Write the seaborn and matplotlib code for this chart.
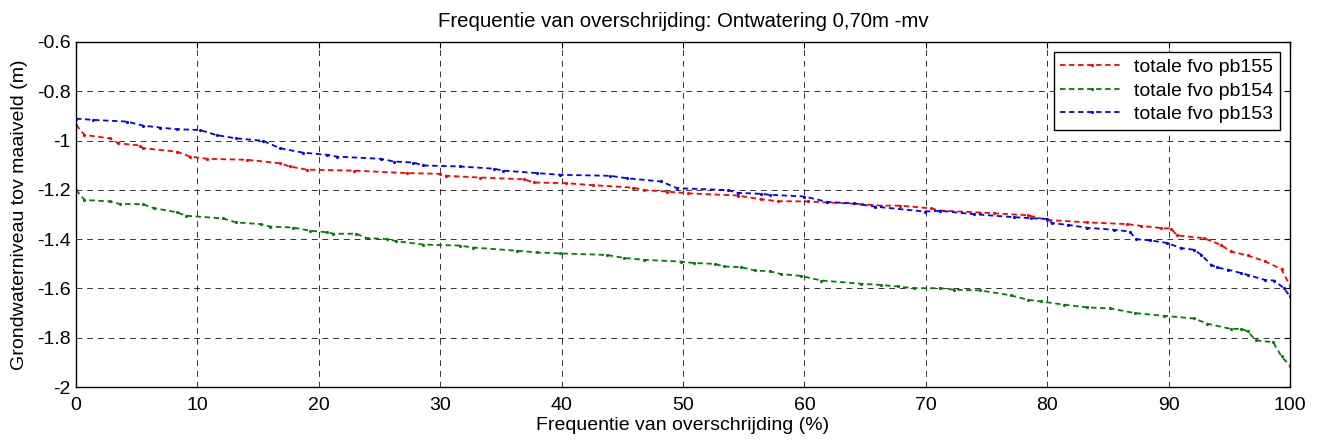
import numpy as np
import pandas as pd
import matplotlib
matplotlib.use("Agg")
import matplotlib.pyplot as plt
import seaborn as sns

# ---- data ----
x_155 = [0, 0.7, 2.8, 3.5, 5.3, 5.5, 8.3, 9.4, 10.8, 14.1, 16.8, 17.6, 19.0, 22.9, 27.3, 30.0, 30.5,
         33.3, 36.9, 37.7, 40.4, 42.6, 45.9, 46.8, 48.7, 50.4, 54.5, 56.4, 57.8, 60.3, 61.9, 64.7,
         66.3, 67.9, 70.4, 71.2, 74.5, 75.6, 78.4, 80.0, 83.3, 86.6, 87.7, 89.4, 90.2, 90.7, 92.9,
         94.3, 95.1, 96.5, 97.9, 99.3, 100]
y_155 = [-0.936, -0.977, -0.991, -1.011, -1.020, -1.031, -1.045, -1.065, -1.074, -1.078, -1.092, -1.105,
         -1.118, -1.122, -1.132, -1.135, -1.143, -1.150, -1.157, -1.170, -1.173, -1.181, -1.191, -1.201,
         -1.207, -1.214, -1.223, -1.238, -1.246, -1.247, -1.251, -1.258, -1.264, -1.264, -1.275, -1.284,
         -1.292, -1.295, -1.303, -1.322, -1.332, -1.339, -1.346, -1.355, -1.357, -1.385, -1.396, -1.423,
         -1.450, -1.466, -1.489, -1.522, -1.589]

x_154 = [0, 0.7, 2.8, 3.6, 5.5, 6.4, 8.3, 9.1, 12.1, 13.2, 15.2, 16.0, 17.9, 19.3, 20.7, 21.2, 23.1,
         23.9, 25.6, 26.4, 28.6, 31.6, 32.7, 36.3, 38.0, 39.9, 43.7, 45.1, 46.8, 49.8, 50.9, 52.6,
         53.4, 54.8, 55.9, 57.2, 58.1, 59.7, 61.4, 64.7, 66.3, 67.7, 69.0, 71.2, 72.3, 74.5, 77.0,
         78.4, 79.5, 81.4, 83.3, 85.2, 87.2, 89.6, 92.1, 93.2, 95.1, 96.0, 96.5, 97.2, 98.6, 99.3, 100]
y_154 = [-1.200, -1.241, -1.247, -1.257, -1.258, -1.274, -1.291, -1.305, -1.316, -1.332, -1.339, -1.349,
         -1.353, -1.366, -1.372, -1.378, -1.378, -1.395, -1.400, -1.408, -1.422, -1.426, -1.434, -1.447,
         -1.454, -1.458, -1.464, -1.476, -1.484, -1.491, -1.497, -1.500, -1.511, -1.514, -1.527, -1.531,
         -1.542, -1.549, -1.568, -1.581, -1.586, -1.592, -1.599, -1.599, -1.605, -1.608, -1.628, -1.646,
         -1.653, -1.666, -1.677, -1.681, -1.700, -1.711, -1.722, -1.743, -1.764, -1.764, -1.774, -1.811,
         -1.818, -1.876, -1.914]

x_153 = [0, 1.4, 4.2, 5.5, 6.9, 8.3, 10.2, 11.6, 13.2, 15.4, 16.8, 18.7, 20.7, 21.5, 25.1, 26.2, 27.8,
         28.6, 31.6, 34.4, 35.2, 38.0, 39.9, 44.0, 45.4, 48.2, 49.5, 53.7, 54.5, 56.4, 57.2, 60.0,
         61.9, 64.1, 65.8, 69.9, 71.2, 74.0, 77.3, 78.7, 80.0, 80.4, 81.7, 83.3, 85.5, 86.8, 87.3,
         88.5, 89.9, 91.0, 92.1, 92.7, 93.5, 94.0, 94.9, 96.0, 96.5, 97.9, 98.7, 99.5, 100]
y_153 = [-0.911, -0.916, -0.923, -0.939, -0.947, -0.954, -0.957, -0.978, -0.991, -1.001, -1.031, -1.049,
         -1.058, -1.065, -1.074, -1.085, -1.089, -1.101, -1.105, -1.114, -1.122, -1.132, -1.139, -1.143,
         -1.153, -1.166, -1.193, -1.201, -1.212, -1.216, -1.220, -1.227, -1.249, -1.255, -1.268, -1.288,
         -1.285, -1.299, -1.311, -1.315, -1.318, -1.335, -1.342, -1.354, -1.362, -1.369, -1.400, -1.405,
         -1.416, -1.436, -1.443, -1.464, -1.504, -1.515, -1.524, -1.538, -1.545, -1.565, -1.568, -1.599,
         -1.632]

labels = ["totale fvo pb155", "totale fvo pb154", "totale fvo pb153"]
colors = ["#ff0000", "#008000", "#0000ff"]
x_ticks = [0, 10, 20, 30, 40, 50, 60, 70, 80, 90, 100]
y_ticks = [-2, -1.8, -1.6, -1.4, -1.2, -1, -0.8, -0.6]
y_ticklabels = ["-2", "-1.8", "-1.6", "-1.4", "-1.2", "-1", "-0.8", "-0.6"]

df = pd.concat([
    pd.DataFrame({"x": x_155, "y": y_155, "serie": labels[0]}),
    pd.DataFrame({"x": x_154, "y": y_154, "serie": labels[1]}),
    pd.DataFrame({"x": x_153, "y": y_153, "serie": labels[2]}),
], ignore_index=True)

sns.set_style("white")
plt.rcParams["font.family"] = ["Liberation Sans", "DejaVu Sans"]
plt.rcParams["text.color"] = "black"
plt.rcParams["axes.labelcolor"] = "black"

fig = plt.figure(figsize=(13.24, 4.46), dpi=100)
ax = fig.add_axes([76 / 1324, 1 - 387 / 446, (1290 - 76) / 1324, (387 - 42) / 446])

sns.lineplot(data=df, x="x", y="y", hue="serie", hue_order=labels, palette=colors,
             sort=False, estimator=None, ax=ax, linewidth=1.3, marker=".", markersize=4.5,
             markeredgewidth=0, dashes=False)
for ln in ax.get_lines():
    ln.set_linestyle((0, (3, 2)))

ax.set_xlim(0, 100)
ax.set_ylim(-2, -0.6)
ax.set_xticks(x_ticks)
ax.set_yticks(y_ticks)
ax.set_yticklabels(y_ticklabels)
ax.tick_params(direction="in", length=4, width=0.8, labelsize=14, colors="black",
               top=True, right=True)
ax.tick_params(axis="x", pad=7)
ax.tick_params(axis="y", pad=4)
ax.grid(True, color="black", linestyle=(0, (6, 5)), linewidth=0.7, alpha=0.8)
for s in ax.spines.values():
    s.set_visible(True)
    s.set_color("black")
    s.set_linewidth(1.0)

ax.set_title("Frequentie van overschrijding: Ontwatering 0,70m -mv", fontsize=14.7, pad=11,
             color="black")
ax.set_xlabel("Frequentie van overschrijding (%)", fontsize=14, labelpad=2)
ax.set_ylabel("Grondwaterniveau tov maaiveld (m)", fontsize=14, labelpad=6)

handles, labs = ax.get_legend_handles_labels()
for h in handles:
    h.set_linestyle((0, (3, 2)))
leg = ax.legend(handles, labs, loc="upper right", fontsize=14, frameon=True, fancybox=False,
                framealpha=1, edgecolor="black", borderpad=0.35, handlelength=3.2,
                labelspacing=0.3, borderaxespad=0.5, handletextpad=0.6)
leg.get_frame().set_linewidth(1.0)

fig.savefig("out.png", dpi=100)
